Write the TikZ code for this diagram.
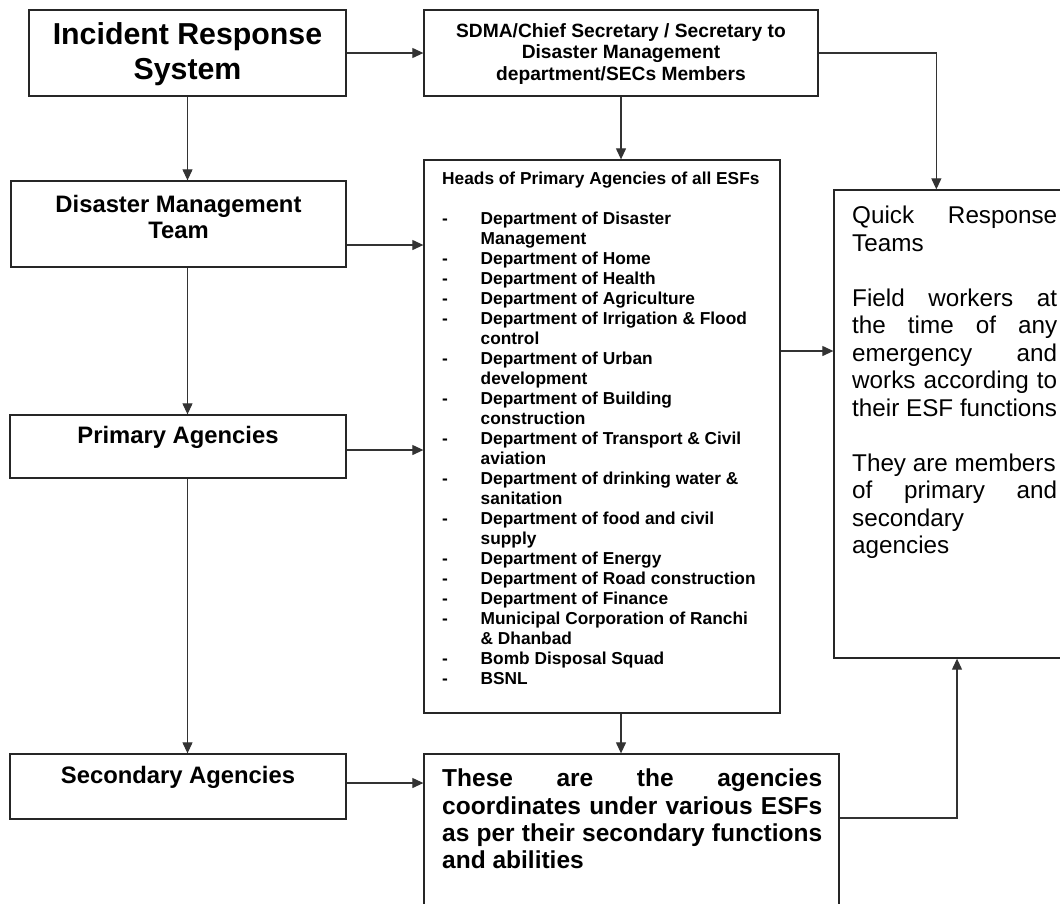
\documentclass[tikz,border=0pt]{standalone}
\usepackage{fontspec}
\setmainfont{Liberation Sans}
\usetikzlibrary{arrows.meta}
\newcommand\dbul{\makebox[38.5pt][l]{-}}
\newcommand\indt{\hspace*{38.5pt}}
\begin{document}
\begin{tikzpicture}[x=1pt,y=-1pt,
  box/.style={draw=black!85,line width=1.3pt,inner sep=0pt,rectangle},
  conn/.style={draw=black!80,line width=1.1pt,-{Triangle[length=11pt,width=10pt]}},
  lbl/.style={inner sep=0pt,align=center},
  listtxt/.style={inner sep=0pt,align=left,anchor=north west},
]
\useasboundingbox (0,0) rectangle (1060,903);
\fill[white] (0,0) rectangle (1060,903);
\clip (0,0) rectangle (1060,903);

% boxes
\node[box,minimum width=317pt,minimum height=86pt] (irs) at (187.5,53) {};
\node[box,minimum width=394pt,minimum height=86pt] (sdma) at (621,53) {};
\node[box,minimum width=335pt,minimum height=86pt] (dmt) at (178.5,224) {};
\node[box,minimum width=336pt,minimum height=63pt] (pa) at (178,446.5) {};
\node[box,minimum width=336pt,minimum height=65pt] (sa) at (178,786.5) {};
\node[box,minimum width=356pt,minimum height=553pt] (heads) at (602,436.5) {};
\node[box,minimum width=246pt,minimum height=468pt] (qrt) at (957,424) {};
\node[box,minimum width=415pt,minimum height=166pt] (bottom) at (631.5,837) {};

% texts
\node[lbl,font=\bfseries\fontsize{30.3}{35}\selectfont] (irsT) at (187.5,54.5) {Incident Response\\System};
\node[lbl,font=\bfseries\fontsize{19.2}{21.5}\selectfont] (sdmaT) at (621,54) {SDMA/Chief Secretary / Secretary to\\Disaster Management\\department/SECs Members};
\node[lbl,font=\bfseries\fontsize{23.8}{26}\selectfont] (dmtT) at (178.5,217) {Disaster Management\\Team};
\node[lbl,font=\bfseries\fontsize{23.8}{26}\selectfont] (paT) at (178,437) {Primary Agencies};
\node[lbl,font=\bfseries\fontsize{23.8}{26}\selectfont] (saT) at (178,777) {Secondary Agencies};

\node[listtxt,font=\bfseries\fontsize{17.3}{20}\selectfont] (headsT) at (442,171.5) {Heads of Primary Agencies of all ESFs\\[20pt]
\dbul Department of Disaster\\
\indt Management\\
\dbul Department of Home\\
\dbul Department of Health\\
\dbul Department of Agriculture\\
\dbul Department of Irrigation \& Flood\\
\indt control\\
\dbul Department of Urban\\
\indt development\\
\dbul Department of Building\\
\indt construction\\
\dbul Department of Transport \& Civil\\
\indt aviation\\
\dbul Department of drinking water \&\\
\indt sanitation\\
\dbul Department of food and civil\\
\indt supply\\
\dbul Department of Energy\\
\dbul Department of Road construction\\
\dbul Department of Finance\\
\dbul Municipal Corporation of Ranchi\\
\indt \& Dhanbad\\
\dbul Bomb Disposal Squad\\
\dbul BSNL};

\node[listtxt,font=\fontsize{24.25}{27.5}\selectfont] (qrtT) at (852,206) {\makebox[205pt][s]{Quick Response}\\
Teams\\[27.5pt]
\makebox[205pt][s]{Field workers at}\\
\makebox[205pt][s]{the time of any}\\
\makebox[205pt][s]{emergency and}\\
\makebox[205pt][s]{works according to}\\
their ESF functions\\[27.5pt]
They are members\\
\makebox[205pt][s]{of primary and}\\
secondary\\
agencies};

\node[listtxt,font=\bfseries\fontsize{24.5}{27.3}\selectfont] (bottomT) at (442,769) {\makebox[380pt][s]{These are the agencies}\\
\makebox[380pt][s]{coordinates under various ESFs}\\
\makebox[380pt][s]{as per their secondary functions}\\
and abilities};

% connectors
\draw[conn] (irs.east) -- (sdma.west);
\draw[conn] (irs.south) -- (irs.south |- dmt.north);
\draw[conn] (irs.south |- dmt.south) -- (irs.south |- pa.north);
\draw[conn] (irs.south |- pa.south) -- (irs.south |- sa.north);
\draw[conn] (sdma.south) -- (sdma.south |- heads.north);
\draw[conn] (sdma.east) -| ([xshift=103pt]qrt.north west);
\draw[conn] ([yshift=-21pt]dmt.east) -- ([yshift=-21pt]dmt.east -| heads.west);
\draw[conn] ([yshift=-3.5pt]pa.east) -- ([yshift=-3.5pt]pa.east -| heads.west);
\draw[conn] ([yshift=85.5pt]heads.east) -- ([yshift=85.5pt]heads.east -| qrt.west);
\draw[conn] ([xshift=19pt]heads.south) -- ([xshift=19pt]heads.south |- bottom.north);
\draw[conn] ([yshift=3.5pt]sa.east) -- ([yshift=3.5pt]sa.east -| bottom.west);
\draw[conn] ([yshift=19pt]bottom.east) -| (qrt.south);
\end{tikzpicture}
\end{document}
